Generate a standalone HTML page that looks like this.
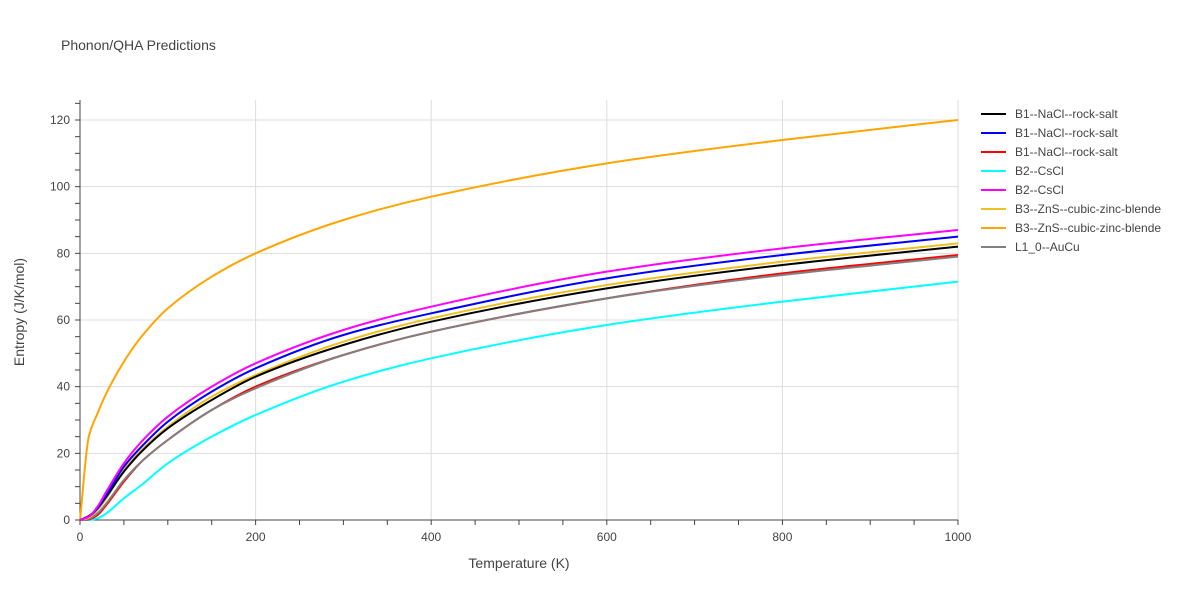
<!DOCTYPE html>
<html><head><meta charset="utf-8"><style>
body{margin:0;background:#fff;font-family:"Liberation Sans",Arial,sans-serif;}
svg text{font-family:"Liberation Sans",Arial,sans-serif;fill:#444;}
</style></head><body>
<svg id="chart" width="1200" height="600" viewBox="0 0 1200 600">
<text x="61" y="50" font-size="14">Phonon/QHA Predictions</text>
<g id="grid"></g>
<g id="axes"></g>
<g id="series"></g>
<g id="legend"></g>
<text x="519" y="568" font-size="14" text-anchor="middle">Temperature (K)</text>
<text transform="translate(24,312) rotate(-90)" font-size="14" text-anchor="middle">Entropy (J/K/mol)</text>
</svg>
<script>
const temps=[0,10,20,30,50,70,100,150,200,300,400,600,800,1000];
const names=["B1--NaCl--rock-salt","B1--NaCl--rock-salt","B1--NaCl--rock-salt","B2--CsCl","B2--CsCl","B3--ZnS--cubic-zinc-blende","B3--ZnS--cubic-zinc-blende","L1_0--AuCu"];
const colors=["#000000","#0000ff","#ff0000","#00ffff","#ff00ff","#f0c020","#ffa500","#808080"];
const sBlack=[0,1.2,3.5,7,14.5,20.5,27.5,36,43,52.5,59.5,69.5,76.5,82];
const sBlue=[0,1,3.5,7.5,16,22,29.5,38.5,45.5,55.5,62,72.5,79.5,85];
const sRed=[0,0.2,1.5,4.5,11.5,17.5,24,33,40,49.5,56.5,66.5,74,79.5];
const sCyan=[0,0,0.5,2,6.5,10.5,17,25,31.5,41.5,48.5,58.5,65.5,71.5];
const sMagenta=[0,1,4,8.5,17,23.5,31,40,47,57,64,74.5,81.5,87];
const sGold=[0,0.7,3,6.5,15,21,28,37,43.5,53.5,60.5,70.5,77.5,83];
const sOrange=[0,25,32,38,47.5,55,63.5,73,80,90,97,107,114,120];
const sGray=[0,0.4,2,5,12,17.5,24,33,39.5,49.5,56.5,66.5,73.5,79];
const seriesVals=[sBlack,sBlue,sRed,sCyan,sMagenta,sGold,sOrange,sGray];
const drawOrder=[6,3,2,7,5,0,1,4];
const xTicks=[0,200,400,600,800,1000];
const yTicks=[0,20,40,60,80,100,120];
const NS="http://www.w3.org/2000/svg";
const X0=80,X1=958,Y0=520,Y1=120;
const xs=v=>X0+(X1-X0)*v/1000;
const ys=v=>Y0-(Y0-Y1)*v/120;
function mk(tag,attrs,parent){const e=document.createElementNS(NS,tag);for(const k in attrs)e.setAttribute(k,attrs[k]);parent.appendChild(e);return e;}
const grid=document.getElementById('grid'),axes=document.getElementById('axes');
xTicks.forEach(t=>{if(t>0){const l=mk('line',{x1:xs(t),x2:xs(t),y1:100,y2:Y0,stroke:'#ddd'},grid);}
 const tx=mk('text',{x:xs(t),y:541,'font-size':12,'text-anchor':'middle'},axes);tx.textContent=t;});
yTicks.forEach(t=>{if(t>0){const l=mk('line',{x1:X0,x2:X1,y1:ys(t),y2:ys(t),stroke:'#ddd'},grid);}
 const tx=mk('text',{x:70,y:ys(t)+4,'font-size':12,'text-anchor':'end'},axes);tx.textContent=t;});
for(let t=0;t<=1000;t+=50){mk('line',{x1:xs(t),x2:xs(t),y1:Y0,y2:Y0+5,stroke:'#444'},axes);}
for(let t=0;t<=125;t+=5){mk('line',{x1:X0-5,x2:X0,y1:ys(t),y2:ys(t),stroke:'#444'},axes);}
mk('line',{x1:X0,x2:X0,y1:100,y2:Y0,stroke:'#444'},axes);
mk('line',{x1:X0,x2:X1,y1:Y0,y2:Y0,stroke:'#444'},axes);
function pathFor(vals){
 const px=temps.map(xs),py=vals.map(ys),n=px.length;
 const d=[],m=[];
 for(let i=0;i<n-1;i++)d.push((py[i+1]-py[i])/(px[i+1]-px[i]));
 m[0]=d[0];m[n-1]=d[n-2];
 for(let i=1;i<n-1;i++){m[i]=(d[i-1]*d[i]<=0)?0:2/(1/d[i-1]+1/d[i]);}
 let s=`M${px[0]},${py[0]}`;
 for(let i=0;i<n-1;i++){const h=(px[i+1]-px[i])/3;s+=` C${px[i]+h},${py[i]+m[i]*h} ${px[i+1]-h},${py[i+1]-m[i+1]*h} ${px[i+1]},${py[i+1]}`;}
 return s;}
const sg=document.getElementById('series');
drawOrder.forEach(i=>{const p=mk('path',{d:pathFor(seriesVals[i]),fill:'none',stroke:colors[i],'stroke-width':2},sg);
 });
const lg=document.getElementById('legend');
names.forEach((n,i)=>{const y=114+19*i;
 const g=mk('g',{},lg);
 mk('line',{x1:981,x2:1006,y1:y,y2:y,stroke:colors[i],'stroke-width':2},g);
 const t=mk('text',{x:1015,y:y+4,'font-size':12},g);t.textContent=n;});
</script>
</body></html>
